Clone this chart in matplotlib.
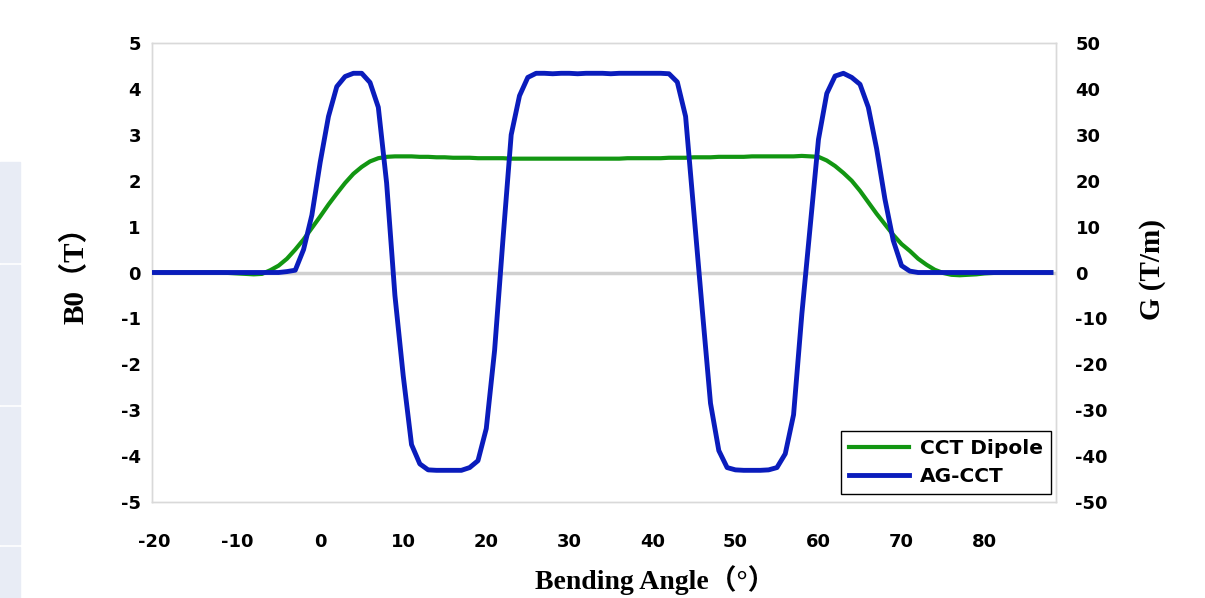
import matplotlib
matplotlib.use('Agg')
import matplotlib.pyplot as plt
from matplotlib.patches import Rectangle

plt.rcParams['axes.unicode_minus'] = False

# bending angle, 1 degree steps
angle = list(range(-20, 89))

# CCT Dipole field B0 (T)
dipole = ([0.0] * 9 +
          [-0.01, -0.02, -0.03, -0.04, -0.03, 0.05, 0.15, 0.30, 0.50, 0.72,   # -11 .. -2
           0.97, 1.22, 1.48, 1.72, 1.95, 2.15, 2.30, 2.42, 2.49, 2.52,         # -1 .. 8
           2.53, 2.53, 2.53, 2.52, 2.52, 2.51, 2.51, 2.50, 2.50, 2.50,         # 9 .. 18
           2.49, 2.49, 2.49, 2.49, 2.48, 2.48, 2.48, 2.48, 2.48, 2.48,         # 19 .. 28
           2.48, 2.48, 2.48, 2.48, 2.48, 2.48, 2.48, 2.48, 2.49, 2.49,         # 29 .. 38
           2.49, 2.49, 2.49, 2.50, 2.50, 2.50, 2.51, 2.51, 2.51, 2.52,         # 39 .. 48
           2.52, 2.52, 2.52, 2.53, 2.53, 2.53, 2.53, 2.53, 2.53, 2.54,         # 49 .. 58
           2.53, 2.52, 2.44, 2.32, 2.17, 2.00, 1.78, 1.53, 1.28, 1.05,         # 59 .. 68
           0.82, 0.62, 0.47, 0.30, 0.17, 0.06, -0.01, -0.05, -0.06, -0.05,     # 69 .. 78
           -0.04, -0.02, -0.01] +                                              # 79 .. 81
          [0.0] * 7)

# AG-CCT gradient G (T/m)
agcct = ([0.0] * 16 +
         [0.2, 0.5, 5, 12.5, 24, 34, 40.5, 42.7, 43.4, 43.4,                  # -4 .. 5
          41.4, 36, 19.5, -5, -22.5, -37.5, -41.7, -43, -43.1, -43.1,         # 6 .. 15
          -43.1, -43.1, -42.5, -41, -34, -17, 7, 30, 38.5, 42.5,              # 16 .. 25
          43.4, 43.4, 43.3, 43.4, 43.4, 43.3, 43.4, 43.4, 43.4, 43.3,         # 26 .. 35
          43.4, 43.4, 43.4, 43.4, 43.4, 43.4, 43.3, 41.5, 34, 13,             # 36 .. 45
          -8, -28.5, -38.8, -42.5, -43, -43.1, -43.1, -43.1, -43, -42.5,      # 46 .. 55
          -39.5, -31, -9, 10, 29, 39, 42.8, 43.4, 42.5, 41,                   # 56 .. 65
          36, 27, 16, 7, 1.5, 0.3] +                                          # 66 .. 71
         [0.0] * 17)

fig = plt.figure(figsize=(12.05, 5.98), dpi=100)

# light side panel on the left edge of the screenshot
for top, bot in [(162, 262), (265, 404), (407, 544), (547, 598)]:
    fig.patches.append(Rectangle((0, 1 - bot / 598), 20 / 1205, (bot - top) / 598,
                                 transform=fig.transFigure, color='#e8ecf5', zorder=0))

ax = fig.add_axes([152 / 1205, 1 - 502 / 598, (1056 - 152) / 1205, (502 - 43) / 598])
ax2 = ax.twinx()

ax.axhline(0, color='#d0d0d0', lw=2.5, zorder=1)
l1, = ax.plot(angle, dipole, color='#129612', lw=3.0, zorder=3, label='CCT Dipole')
l2, = ax2.plot(angle, agcct, color='#0a1cbc', lw=3.5, zorder=3, label='AG-CCT')

ax.set_xlim(-20.25, 88.6)
ax.set_ylim(-5, 5)
ax2.set_ylim(-50, 50)
ax.set_xticks(range(-20, 81, 10))
ax.set_yticks(range(-5, 6))
ax2.set_yticks(range(-50, 51, 10))

for a in (ax, ax2):
    for s in a.spines.values():
        s.set_color('#d9d9d9')
        s.set_linewidth(1.0)
    a.tick_params(length=0)
ax.tick_params(axis='y', pad=8)
ax.tick_params(axis='x', pad=22)
ax2.tick_params(axis='y', pad=14)
for lab in ax.get_xticklabels() + ax.get_yticklabels() + ax2.get_yticklabels():
    lab.set_fontweight('bold')
    lab.set_fontsize(13)
    lab.set_family('DejaVu Sans')

fig.text(76 / 1205, 1 - 268 / 598, 'B0（T）', rotation=90, ha='center', va='center',
         fontsize=21, fontweight='bold', family=['Liberation Serif', 'Noto Sans CJK SC'])
fig.text(1152 / 1205, 1 - 270 / 598, 'G (T/m)', rotation=90, ha='center', va='center',
         fontsize=21, fontweight='bold', family=['Liberation Serif'])
fig.text(655 / 1205, 1 - 589 / 598, 'Bending Angle（°）', ha='center', va='baseline',
         fontsize=20, fontweight='bold', family=['Liberation Serif', 'Noto Sans CJK SC'])

leg = ax2.legend(handles=[l1, l2], loc='lower right', bbox_to_anchor=(0.9985, 0.008),
                 prop={'weight': 'bold', 'size': 14.5}, fancybox=False, framealpha=1,
                 edgecolor='black', handlelength=3.0, borderpad=0.4, labelspacing=0.45,
                 handletextpad=0.5, borderaxespad=0.2)
leg.get_frame().set_linewidth(1.0)

fig.savefig('out.png', dpi=100)
